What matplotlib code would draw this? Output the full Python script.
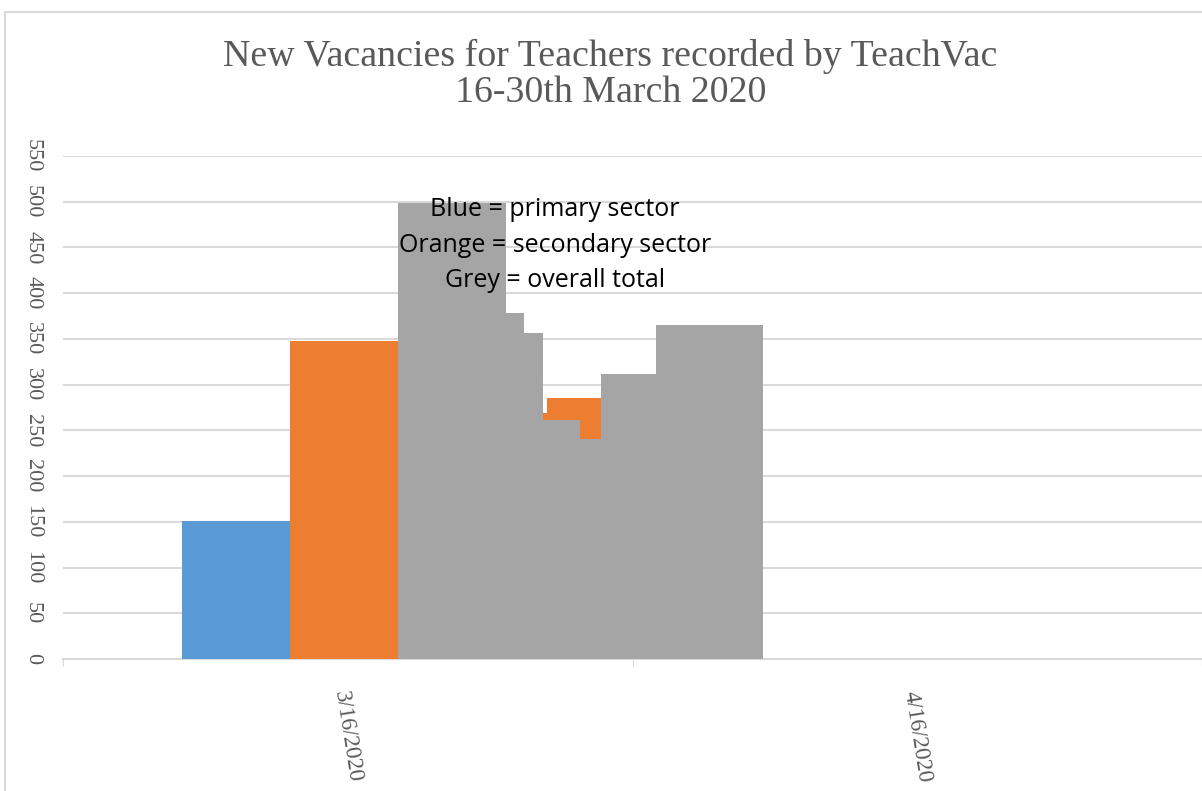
import matplotlib.pyplot as plt
from matplotlib.patches import Rectangle
from matplotlib.transforms import ScaledTranslation

# values (vacancies)
primary = [151]
secondary = [348, 269, 285]
total = [499, 378, 356, 261, 241, 312, 365]

# bar edges on the (month-based) date axis, 0 = start of March bin
primary_edges = [0.209, 0.398]
total_edges = [0.589, 0.778, 0.810, 0.843, 0.908, 0.945, 1.041, 1.230]
secondary_x = [0.398, 0.843, 0.850]
secondary_w = [0.191, 0.007, 0.095]

tick_labels = ['3/16/2020', '4/16/2020']
yticks = list(range(0, 551, 50))

fig = plt.figure(figsize=(12.02, 7.91), dpi=100)
fig.patches.append(Rectangle((5 / 1202, -0.1), 1.2, (791 - 12) / 791 + 0.1,
                             transform=fig.transFigure, fill=False,
                             edgecolor='#d9d9d9', linewidth=1.5))

ax = fig.add_axes([63 / 1202, 132 / 791, 1 - 63 / 1202, (659 - 156) / 791])

def steps(edges, vals, color):
    x = edges[:-1]
    w = [b - a for a, b in zip(edges[:-1], edges[1:])]
    ax.bar(x, vals, width=w, align='edge', color=color, linewidth=0, zorder=3)

steps(primary_edges, primary, '#5b9bd5')
ax.bar(secondary_x, secondary, width=secondary_w, align='edge', color='#ed7d31',
       linewidth=0, zorder=3)
steps(total_edges, total, '#a5a5a5')

ax.set_xlim(0, 2)
ax.set_ylim(0, 550)
ax.set_yticks(yticks)
ax.set_yticklabels([str(v) for v in yticks], rotation=-90, va='center',
                   family='Liberation Serif', fontsize=16, color='#595959')
ax.tick_params(axis='y', length=0, pad=15)
ax.set_xticks([0, 1, 2])
ax.set_xticklabels([])
ax.set_xticks([0.5, 1.5], minor=True)
ax.set_xticklabels(tick_labels, minor=True, rotation=-81, ha='center', va='top',
                   family='Liberation Serif', fontsize=16.5, color='#595959')
for lbl in ax.get_xticklabels(minor=True):
    lbl.set_transform(lbl.get_transform() + ScaledTranslation(-0.08, 0, fig.dpi_scale_trans))
ax.tick_params(axis='x', which='major', length=5, color='#d9d9d9')
ax.tick_params(axis='x', which='minor', length=0, pad=22)
ax.grid(axis='y', color='#d9d9d9', linewidth=1.5, zorder=0)
for s in ['top', 'right', 'left']:
    ax.spines[s].set_visible(False)
ax.spines['bottom'].set_color('#d9d9d9')
ax.spines['bottom'].set_linewidth(1.5)

fig.text(0.508, 1 - 66 / 791, 'New Vacancies for Teachers recorded by TeachVac',
         ha='center', va='baseline', family='Liberation Serif', fontsize=27.3,
         color='#595959')
fig.text(0.508, 1 - 102 / 791, '16-30th March 2020',
         ha='center', va='baseline', family='Liberation Serif', fontsize=27.3,
         color='#595959')

ax.text(555 / 1202, 1 - 245 / 791, 'Blue = primary sector\nOrange = secondary sector\nGrey = overall total',
        transform=fig.transFigure, ha='center', va='center', fontsize=18,
        family='Open Sans', color='black', linespacing=1.55, zorder=5)

fig.savefig('out.png', dpi=100)
